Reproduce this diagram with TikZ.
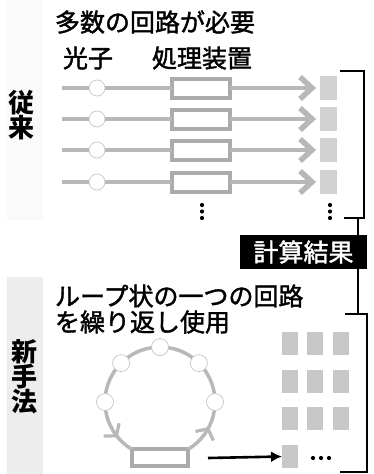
\documentclass[tikz,border=0pt]{standalone}
\usepackage{fontspec}
\setmainfont{Noto Sans CJK JP}
\newfontfamily\medfont{Noto Sans CJK JP}[FakeBold=1.6]
\usetikzlibrary{arrows.meta,calc,decorations.markings}
\definecolor{beamgray}{HTML}{B8B8B8}
\definecolor{boxgray}{HTML}{ABABAB}
\definecolor{resgray}{HTML}{D2D2D2}
\begin{document}
\begin{tikzpicture}[x=1pt,y=1pt,
  every node/.style={inner sep=0pt, outer sep=0pt},
  txt/.style={font=\fontsize{25}{25}\selectfont\medfont, anchor=west},
  vtxt/.style={font=\fontsize{26}{25}\selectfont\bfseries, align=center},
  beam/.style={draw=beamgray, line width=4pt},
  chevron/.style={draw=beamgray, line width=5.5pt, line join=miter},
  loopchev/.style={draw=beamgray, line width=3.2pt, line join=miter},
  photon/.style={circle, draw=gray!45, line width=0.7pt, fill=white, minimum size=16pt},
  proc/.style={rectangle, draw=boxgray, line width=4pt, fill=white, minimum width=58pt, minimum height=19pt},
  res/.style={rectangle, fill=resgray, minimum width=17pt, minimum height=24pt},
  gres/.style={rectangle, fill=resgray!95!black, minimum width=16pt, minimum height=23pt},
  dotm/.style={circle, fill=black, minimum size=4.2pt},
  bracket/.style={draw=black, line width=2pt},
  loopline/.style={draw=beamgray, line width=3.5pt},
  resultbox/.style={rectangle, fill=black, text=white, minimum width=127pt, minimum height=34pt, font=\fontsize{25}{25}\selectfont\medfont}
]
\useasboundingbox (0,0) rectangle (374,-474);
% side strips
\fill[gray!4] (7,0) rectangle (43,-220);
\fill[gray!14] (7,-277) rectangle (43,-474);
% labels
\node[vtxt] (conv) at (22,-115) {従\\来};
\node[vtxt] (newm) at (25,-377) {新\\手\\法};
\node[txt] (t1) at (55,-22) {多数の回路が必要};
\node[txt] (t2) at (63,-58) {光子};
\node[txt] (t3) at (152,-58) {処理装置};
\node[txt] (t4) at (55,-296) {ループ状の一つの回路};
\node[txt] (t5) at (55,-322) {を繰り返し使用};
% conventional rows
\foreach \i/\y in {1/88,2/119,3/150,4/182}{
  \coordinate (s\i) at (62,-\y);
  \node[photon] (p\i) at (97,-\y) {};
  \node[proc] (b\i) at (201,-\y) {};
  \node[res] (r\i) at (328.5,-\y) {};
  \coordinate (tip\i) at ([xshift=-8pt]r\i.west);
  \draw[beam] (s\i) -- (p\i);
  \draw[beam] (p\i) -- (b\i);
  \draw[beam] (b\i) -- (tip\i);
  \draw[chevron] ([shift={(-12,11)}]tip\i) -- (tip\i) -- ([shift={(-12,-11)}]tip\i);
}
\foreach \x/\n in {202/a,330/b}{
  \foreach \yy/\m in {205/1,211.5/2,218/3}{
    \node[dotm] (vd\n\m) at (\x,-\yy) {};
  }
}
% brackets and result
\coordinate (ub1) at (340,-71);
\coordinate (ub2) at (364,-71);
\coordinate (ub3) at (364,-218);
\coordinate (ub4) at (344,-218);
\coordinate (st1) at (358,-218);
\coordinate (st2) at (358,-314);
\coordinate (lb1) at (345,-314);
\coordinate (lb2) at (367,-314);
\coordinate (lb3) at (367,-472);
\coordinate (lb4) at (340,-472);
\draw[bracket] (ub1) -- (ub2) -- (ub3) -- (ub4);
\draw[bracket] (st1) -- (st2);
\draw[bracket] (lb1) -- (lb2) -- (lb3) -- (lb4);
\node[resultbox] (K) at (303.5,-252) {計算結果};
% loop
\coordinate (O) at (160,-402);
\node[proc, line width=3.5pt, minimum width=56pt, minimum height=17pt] (L) at (160,-457.5) {};
\draw[loopline, postaction={decorate}, decoration={markings,
   mark=at position 0.107 with {\draw[loopchev] (-10,10) -- (-2,0) -- (-10,-10);},
   mark=at position 0.936 with {\draw[loopchev] (-10,10) -- (-2,0) -- (-10,-10);}}]
  ($(O)+(-59:55)$) arc[start angle=-59, end angle=239, radius=55];
\foreach \a/\k in {0/0,45/1,90/2,135/3,180/4}{
  \node[photon, minimum size=17pt] (c\k) at ($(O)+(\a:55)$) {};
}
% result grid
\foreach \c/\x in {1/290,2/315,3/341}{
  \foreach \r/\y in {1/343.5,2/381.5,3/418.5}{
    \node[gres] (g\r\c) at (\x,-\y) {};
  }
}
\node[gres] (g41) at (290,-456.5) {};
\foreach \x/\m in {313/1,321/2,329/3}{
  \node[dotm] (hd\m) at (\x,-458) {};
}
\coordinate (ar) at (208,-458);
\draw[line width=2.6pt, -{Latex[length=11pt,width=11pt]}] (ar) -- (g41.west);
\end{tikzpicture}
\end{document}
